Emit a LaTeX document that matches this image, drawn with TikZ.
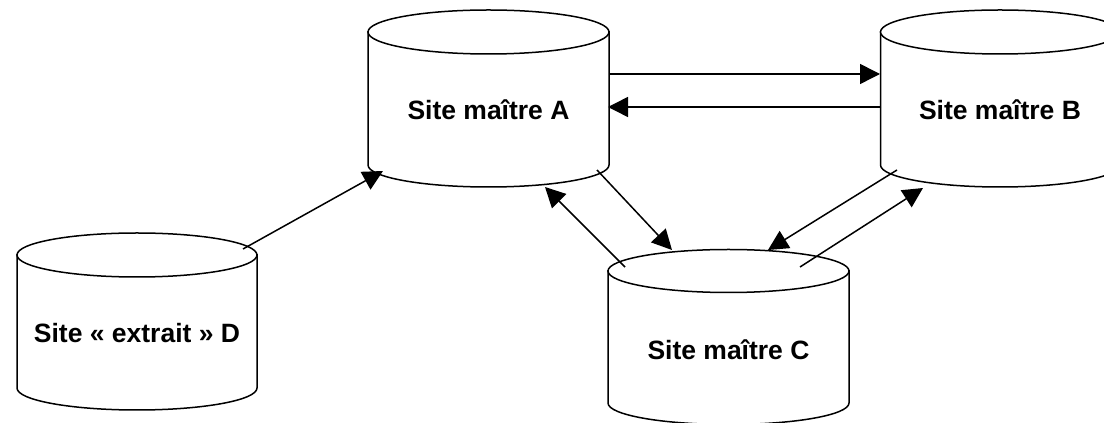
\documentclass[tikz,border=0pt]{standalone}
\usepackage{fontspec}
\setmainfont{Liberation Sans}
\usetikzlibrary{arrows.meta}
\tikzset{
  cylline/.style={line width=1.5pt, fill=white},
  conn/.style={line width=1.5pt, -{Triangle[length=20pt,width=20pt]}},
  lbl/.style={font=\fontsize{26.5}{30}\selectfont\bfseries, inner sep=0pt}
}
% \dbcyl{cx}{hw}{top}{bot}{ry}
\newcommand{\dbcyl}[5]{%
  \draw[cylline] (#1-#2,#3) -- (#1-#2,#4) arc[start angle=180,end angle=360,x radius=#2,y radius=#5] -- (#1+#2,#3) -- cycle;
  \draw[cylline] (#1,#3) ellipse[x radius=#2,y radius=#5];
}
\begin{document}
\begin{tikzpicture}[x=1pt,y=1pt]
\useasboundingbox (0,0) rectangle (1104,423);
\clip (0,0) rectangle (1104,423);
% cylinders
\dbcyl{488.5}{120.5}{391}{258}{22}
\dbcyl{1000}{119.5}{391}{258}{22}
\dbcyl{728.5}{120.5}{152}{20}{21.5}
\dbcyl{137}{120}{168}{35}{22}
% labels
\node[lbl] (A) at (488.5,313) {Site maître A};
\node[lbl] (B) at (1000,313) {Site maître B};
\node[lbl] (C) at (728.5,73) {Site maître C};
\node[lbl] (D) at (137,90) {Site « extrait » D};
% connector endpoints
\coordinate (AB1) at (609,349); \coordinate (BA1) at (880,349);
\coordinate (BA2) at (881,316); \coordinate (AB2) at (608,316);
\coordinate (DA1) at (243,174); \coordinate (AD1) at (383,252);
\coordinate (AC1) at (597,253); \coordinate (CA1) at (672,173);
\coordinate (CA2) at (625,156); \coordinate (AC2) at (545,236);
\coordinate (BC1) at (897,253); \coordinate (CB1) at (768,173);
\coordinate (CB2) at (800,156); \coordinate (BC2) at (923,235);
% connectors
\draw[conn] (AB1) -- (BA1);
\draw[conn] (BA2) -- (AB2);
\draw[conn] (DA1) -- (AD1);
\draw[conn] (AC1) -- (CA1);
\draw[conn] (CA2) -- (AC2);
\draw[conn] (BC1) -- (CB1);
\draw[conn] (CB2) -- (BC2);
\end{tikzpicture}
\end{document}
